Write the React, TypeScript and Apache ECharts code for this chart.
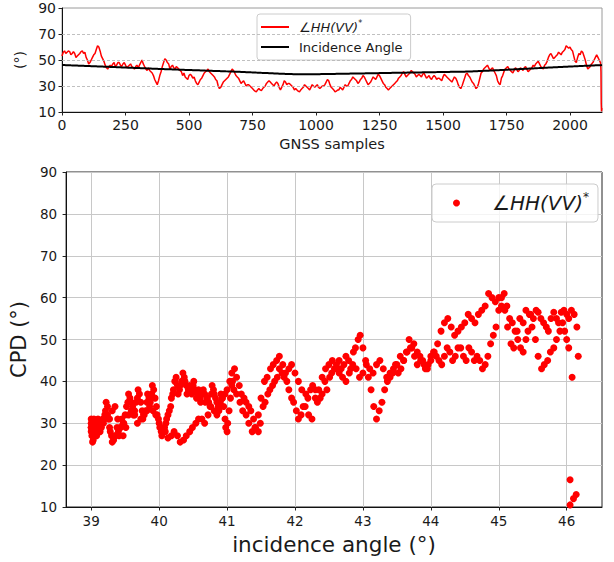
import React, { useEffect, useRef } from 'react';
import * as echarts from 'echarts';

const FONT = "'DejaVu Sans', sans-serif";
const SAMPLE_STEP = 10;

// CPD (∠HH(VV)*) read at GNSS samples 0, 10, 20 ... 2120
const CPD = [
  53, 57, 56, 56.5, 55, 55, 53, 55, 57, 56, 50,
  48, 52, 55, 61, 57, 51, 46, 43, 46, 47,
  45, 48, 46, 47, 46, 45, 47, 44, 45, 44,
  48, 47, 43, 44, 41, 38, 33, 34, 41, 48,
  50, 47, 45, 44, 45, 43, 41, 40, 36, 38,
  38, 37, 32, 33, 36, 40, 42, 41, 39, 37,
  34, 28, 31, 34, 36, 39, 43, 40, 37, 34,
  33, 32, 31, 30, 28, 26, 27, 27, 28, 30,
  33, 33, 31, 32, 32, 27, 31, 33, 32, 31,
  29, 28, 26, 27, 29, 30, 28, 29, 30, 30,
  29, 29, 30, 33, 34, 29, 27, 26, 27, 28,
  29, 30, 32, 35, 36, 34, 33, 36, 37, 33,
  32, 35, 36, 37, 38, 34, 31, 28, 28, 30,
  32, 34, 37, 40, 39, 38, 40, 41, 39, 38,
  38, 39, 38, 37, 36, 37, 37, 36, 35, 37,
  38, 36, 34, 35, 36, 31, 28, 33, 39, 38,
  35, 32, 28, 32, 40, 43, 45, 44, 43, 42,
  38, 32, 36, 41, 44, 43, 41, 42, 43, 42,
  43, 44, 43, 42, 44, 45, 48, 47, 44, 46,
  49, 54, 53, 52, 54, 55, 56, 58, 60, 60,
  57, 49, 52, 54, 56, 50, 43, 45, 48, 52,
  52, 48,
];

// CPD read at the samples in between: 5, 15, 25 ... 2115
const CPD_MID = [
  56, 55, 57, 54, 56.5, 52, 54, 56.5, 55, 52,
  47, 50, 54, 58, 60, 53, 49, 44, 45, 45,
  48, 46, 48, 45, 48, 44, 46, 45, 43, 46,
  46, 50, 45, 42, 42, 40, 35, 31, 38, 45,
  51, 48, 43, 46, 43, 44, 42, 38, 37, 35,
  39, 36, 34, 31, 35, 38, 41, 43, 40, 38,
  35, 30, 29, 33, 35, 37, 41, 42, 38, 36,
  32, 34, 30, 31, 29, 27, 25.5, 28, 26.5, 29,
  32, 34, 32, 30, 33, 29, 29, 34, 31, 32,
  30, 27, 27, 25.5, 28, 31, 29, 27, 31, 29,
  31, 28, 30, 31, 35, 31, 28, 25.5, 27, 29,
  27, 31, 30, 34, 37, 35, 32, 35, 38, 35,
  31, 33, 37, 35, 39, 36, 32, 29, 27, 29,
  31, 33, 36, 38, 41, 37, 39, 42, 40, 37,
  39, 37, 40, 36, 38, 35, 38, 35, 36, 34,
  39, 37, 35, 33, 37, 34, 29, 30, 36, 40,
  37, 33, 30, 29, 36, 41, 44, 46, 42, 44,
  40, 34, 31, 38, 43, 45, 42, 40, 44, 41,
  44, 42, 45, 41, 43, 46, 47, 49, 45, 43,
  47, 52, 55, 51, 53, 56, 54, 57, 61, 59,
  58, 53, 48, 55, 57, 53, 46, 44, 47, 50,
  54, 50,
];

// Incidence angle at samples 0, 10 ... 2120
const INCIDENCE = [
  46.15, 46.07, 46.0, 45.92, 45.85, 45.77, 45.7, 45.62, 45.55, 45.47, 45.4,
  45.32, 45.24, 45.16, 45.08, 45.0, 44.92, 44.84, 44.76, 44.68, 44.6,
  44.52, 44.44, 44.36, 44.28, 44.2, 44.12, 44.04, 43.96, 43.88, 43.8,
  43.72, 43.64, 43.56, 43.48, 43.4, 43.32, 43.24, 43.16, 43.08, 43.0,
  42.93, 42.86, 42.79, 42.72, 42.65, 42.58, 42.51, 42.44, 42.37, 42.3,
  42.23, 42.16, 42.09, 42.02, 41.95, 41.88, 41.81, 41.74, 41.67, 41.6,
  41.53, 41.46, 41.39, 41.32, 41.25, 41.18, 41.11, 41.04, 40.97, 40.9,
  40.81, 40.72, 40.63, 40.54, 40.45, 40.36, 40.27, 40.18, 40.09, 40.0,
  39.91, 39.82, 39.73, 39.64, 39.55, 39.47, 39.39, 39.31, 39.24, 39.17,
  39.11, 39.06, 39.03, 39.01, 39.0, 39.0, 39.01, 39.03, 39.06, 39.09,
  39.12, 39.15, 39.18, 39.21, 39.24, 39.27, 39.3, 39.33, 39.36, 39.4,
  39.43, 39.47, 39.5, 39.54, 39.57, 39.61, 39.64, 39.68, 39.71, 39.75,
  39.78, 39.82, 39.85, 39.89, 39.92, 39.96, 39.99, 40.03, 40.06, 40.1,
  40.13, 40.17, 40.2, 40.23, 40.27, 40.3, 40.33, 40.37, 40.4, 40.43,
  40.47, 40.5, 40.53, 40.57, 40.6, 40.63, 40.67, 40.7, 40.73, 40.77,
  40.8, 40.83, 40.87, 40.9, 40.93, 40.97, 41.0, 41.03, 41.07, 41.1,
  41.19, 41.28, 41.37, 41.46, 41.55, 41.64, 41.73, 41.82, 41.91, 42.0,
  42.1, 42.2, 42.3, 42.4, 42.5, 42.6, 42.7, 42.8, 42.9, 43.0,
  43.1, 43.2, 43.3, 43.4, 43.5, 43.6, 43.7, 43.8, 43.9, 44.0,
  44.1, 44.2, 44.3, 44.4, 44.5, 44.6, 44.7, 44.8, 44.9, 45.0,
  45.09, 45.18, 45.27, 45.36, 45.45, 45.54, 45.63, 45.72, 45.81, 45.9,
  45.97, 46.03,
];

// Incidence angle at samples 5, 15 ... 2115
const INCIDENCE_MID = [
  46.11, 46.03, 45.96, 45.88, 45.81, 45.73, 45.66, 45.58, 45.51, 45.43,
  45.36, 45.28, 45.2, 45.12, 45.04, 44.96, 44.88, 44.8, 44.72, 44.64,
  44.56, 44.48, 44.4, 44.32, 44.24, 44.16, 44.08, 44.0, 43.92, 43.84,
  43.76, 43.68, 43.6, 43.52, 43.44, 43.36, 43.28, 43.2, 43.12, 43.04,
  42.96, 42.89, 42.82, 42.75, 42.68, 42.61, 42.54, 42.47, 42.4, 42.33,
  42.26, 42.19, 42.12, 42.05, 41.98, 41.91, 41.84, 41.77, 41.7, 41.63,
  41.56, 41.49, 41.42, 41.35, 41.28, 41.21, 41.14, 41.07, 41.0, 40.93,
  40.85, 40.76, 40.67, 40.58, 40.49, 40.4, 40.31, 40.22, 40.13, 40.04,
  39.95, 39.86, 39.77, 39.68, 39.59, 39.51, 39.43, 39.35, 39.27, 39.2,
  39.14, 39.08, 39.04, 39.02, 39.0, 39.0, 39.0, 39.02, 39.04, 39.07,
  39.1, 39.13, 39.16, 39.19, 39.22, 39.25, 39.28, 39.31, 39.34, 39.38,
  39.41, 39.45, 39.48, 39.52, 39.55, 39.59, 39.62, 39.66, 39.69, 39.73,
  39.76, 39.8, 39.83, 39.87, 39.9, 39.94, 39.97, 40.01, 40.04, 40.08,
  40.11, 40.15, 40.18, 40.21, 40.25, 40.28, 40.31, 40.35, 40.38, 40.41,
  40.45, 40.48, 40.51, 40.55, 40.58, 40.61, 40.65, 40.68, 40.71, 40.75,
  40.78, 40.81, 40.85, 40.88, 40.91, 40.95, 40.98, 41.01, 41.05, 41.08,
  41.14, 41.23, 41.32, 41.41, 41.5, 41.59, 41.68, 41.77, 41.86, 41.95,
  42.05, 42.15, 42.25, 42.35, 42.45, 42.55, 42.65, 42.75, 42.85, 42.95,
  43.05, 43.15, 43.25, 43.35, 43.45, 43.55, 43.65, 43.75, 43.85, 43.95,
  44.05, 44.15, 44.25, 44.35, 44.45, 44.55, 44.65, 44.75, 44.85, 44.95,
  45.04, 45.13, 45.22, 45.31, 45.4, 45.49, 45.58, 45.67, 45.76, 45.85,
  45.94, 46.0,
];

// last samples (drop at the end of the track)
const TAIL_SAMPLES = [2121, 2122, 2123, 2124, 2125, 2126];
const TAIL_CPD = [46, 41, 16.5, 10.5, 12, 13];
const TAIL_INC = [46.17, 46.08, 46.05, 46.05, 46.1, 46.14];

const TOP_X_TICKS = [0, 250, 500, 750, 1000, 1250, 1500, 1750, 2000];
const TOP_Y_TICKS = [10, 30, 50, 70, 90];
const TOP_GRID_LINES = [30, 50, 70];
const BOTTOM_X_TICKS = [39, 40, 41, 42, 43, 44, 45, 46];

const LINE_NAME = 'cpdLine';
const INC_NAME = 'inc';
const SCATTER_NAME = 'cpdScatter';

export default function App() {
  const ref = useRef<HTMLDivElement>(null);

  useEffect(() => {
    if (!ref.current) return;
    const chart = echarts.init(ref.current, null, { renderer: 'svg' });

    const samples: number[] = [];
    const cpdAll: number[] = [];
    const incAll: number[] = [];
    CPD.forEach((v, i) => {
      samples.push(i * SAMPLE_STEP);
      cpdAll.push(v);
      incAll.push(INCIDENCE[i]);
      if (i < CPD_MID.length) {
        samples.push(i * SAMPLE_STEP + SAMPLE_STEP / 2);
        cpdAll.push(CPD_MID[i]);
        incAll.push(INCIDENCE_MID[i]);
      }
    });
    TAIL_SAMPLES.forEach((s, i) => {
      samples.push(s);
      cpdAll.push(TAIL_CPD[i]);
      incAll.push(TAIL_INC[i]);
    });

    const cpdLine = samples.map((s, i) => [s, cpdAll[i]]);
    const incLine = samples.map((s, i) => [s, incAll[i]]);
    const scatter = samples.map((_, i) => [incAll[i], cpdAll[i]]);

    const textColor = '#1a1a1a';
    const tickStyle = { color: '#222', width: 1 };
    const plain = (v: number) => String(v);

    const option: any = {
      animation: false,
      backgroundColor: '#fff',
      grid: [
        { left: 62, right: 12, top: 8, height: 104, show: true, borderColor: '#9a9a9a', borderWidth: 1, backgroundColor: 'transparent' },
        { left: 66, right: 12, top: 172, height: 335, show: true, borderColor: '#222', borderWidth: 1, backgroundColor: 'transparent' },
      ],
      legend: [
        {
          orient: 'vertical',
          left: 257,
          top: 14,
          padding: [5, 8, 5, 4],
          itemGap: 4,
          itemWidth: 28,
          itemHeight: 2,
          selectedMode: false,
          backgroundColor: 'rgba(255,255,255,0.8)',
          borderColor: '#cccccc',
          borderWidth: 1,
          borderRadius: 3,
          data: [
            { name: LINE_NAME, icon: 'rect' },
            { name: INC_NAME, icon: 'rect' },
          ],
          formatter: (n: string) => (n === LINE_NAME ? '{it|∠HH(VV)}{sup|*}' : 'Incidence Angle'),
          textStyle: {
            fontFamily: FONT,
            fontSize: 13,
            color: textColor,
            lineHeight: 16,
            padding: [0, 0, 0, 5],
            rich: {
              it: { fontFamily: FONT, fontSize: 13, fontStyle: 'italic', color: textColor },
              sup: { fontFamily: FONT, fontSize: 8, verticalAlign: 'top', color: textColor },
            },
          },
        },
        {
          left: 432,
          top: 184,
          padding: [7, 9, 7, 21],
          itemWidth: 7,
          itemHeight: 7,
          selectedMode: false,
          backgroundColor: 'rgba(255,255,255,0.8)',
          borderColor: '#cccccc',
          borderWidth: 1,
          borderRadius: 4,
          data: [{ name: SCATTER_NAME, icon: 'circle' }],
          formatter: () => '{it|∠HH(VV)}{sup|*}',
          textStyle: {
            fontFamily: FONT,
            fontSize: 20,
            color: textColor,
            lineHeight: 24,
            padding: [0, 0, 0, 27],
            rich: {
              it: { fontFamily: FONT, fontSize: 20, fontStyle: 'italic', color: textColor },
              sup: { fontFamily: FONT, fontSize: 12, verticalAlign: 'top', color: textColor },
            },
          },
        },
      ],
      xAxis: [
        {
          type: 'value',
          gridIndex: 0,
          min: 0,
          max: 2126,
          axisLine: { show: true, onZero: false, lineStyle: { color: '#111', width: 1 } },
          axisTick: { show: true, length: 3.5, customValues: TOP_X_TICKS, lineStyle: tickStyle },
          axisLabel: { customValues: TOP_X_TICKS, formatter: plain, fontFamily: FONT, fontSize: 14, color: textColor, margin: 6 },
          splitLine: { show: false },
          name: 'GNSS samples',
          nameLocation: 'middle',
          nameGap: 24,
          nameTextStyle: { fontFamily: FONT, fontSize: 14.5, color: textColor },
        },
        {
          type: 'value',
          gridIndex: 1,
          min: 38.63,
          max: 46.52,
          interval: 1,
          axisLine: { show: true, onZero: false, lineStyle: { color: '#111', width: 1 } },
          axisTick: { show: true, length: 3.5, customValues: BOTTOM_X_TICKS, lineStyle: tickStyle },
          axisLabel: { customValues: BOTTOM_X_TICKS, formatter: plain, fontFamily: FONT, fontSize: 13.5, color: textColor, margin: 7 },
          splitLine: { show: true, lineStyle: { color: '#c8c8c8', width: 1 } },
          name: 'incidence angle (°)',
          nameLocation: 'middle',
          nameGap: 26,
          nameTextStyle: { fontFamily: FONT, fontSize: 21.5, color: textColor },
        },
      ],
      yAxis: [
        {
          type: 'value',
          gridIndex: 0,
          min: 10,
          max: 90,
          axisLine: { show: true, onZero: false, lineStyle: { color: '#111', width: 1 } },
          axisTick: { show: true, length: 3.5, customValues: TOP_Y_TICKS, lineStyle: tickStyle },
          axisLabel: { customValues: TOP_Y_TICKS, formatter: plain, fontFamily: FONT, fontSize: 14, color: textColor, margin: 6 },
          splitLine: { show: false },
          name: '(°)',
          nameLocation: 'middle',
          nameGap: 30,
          nameTextStyle: { fontFamily: FONT, fontSize: 14, color: textColor },
        },
        {
          type: 'value',
          gridIndex: 1,
          min: 10,
          max: 90,
          interval: 10,
          axisLine: { show: true, onZero: false, lineStyle: { color: '#111', width: 1 } },
          axisTick: { show: true, length: 3.5, lineStyle: tickStyle },
          axisLabel: { formatter: plain, fontFamily: FONT, fontSize: 13.5, color: textColor, margin: 9 },
          splitLine: { show: true, lineStyle: { color: '#c8c8c8', width: 1 } },
          name: 'CPD (°)',
          nameLocation: 'middle',
          nameGap: 33,
          nameTextStyle: { fontFamily: FONT, fontSize: 21, color: textColor },
        },
      ],
      series: [
        {
          name: 'gridlines',
          type: 'line',
          xAxisIndex: 0,
          yAxisIndex: 0,
          data: [],
          z: 1,
          markLine: {
            silent: true,
            symbol: ['none', 'none'],
            label: { show: false },
            lineStyle: { type: [3, 2], color: '#b0b0b0', width: 0.8 },
            data: TOP_GRID_LINES.map((v) => ({ yAxis: v })),
          },
        },
        {
          name: LINE_NAME,
          type: 'line',
          xAxisIndex: 0,
          yAxisIndex: 0,
          data: cpdLine,
          showSymbol: false,
          symbol: 'none',
          color: '#ff0000',
          lineStyle: { color: '#ff0000', width: 1.5 },
          z: 2,
        },
        {
          name: INC_NAME,
          type: 'line',
          xAxisIndex: 0,
          yAxisIndex: 0,
          data: incLine,
          showSymbol: false,
          symbol: 'none',
          color: '#000000',
          lineStyle: { color: '#000000', width: 2 },
          z: 3,
        },
        {
          name: SCATTER_NAME,
          type: 'scatter',
          xAxisIndex: 1,
          yAxisIndex: 1,
          data: scatter,
          symbolSize: 7,
          itemStyle: { color: '#ff0000', opacity: 1 },
          z: 2,
        },
      ],
    };

    chart.setOption(option);
    return () => chart.dispose();
  }, []);

  return <div ref={ref} style={{ position: 'fixed', left: 0, top: 0, width: 614, height: 562 }} />;
}
